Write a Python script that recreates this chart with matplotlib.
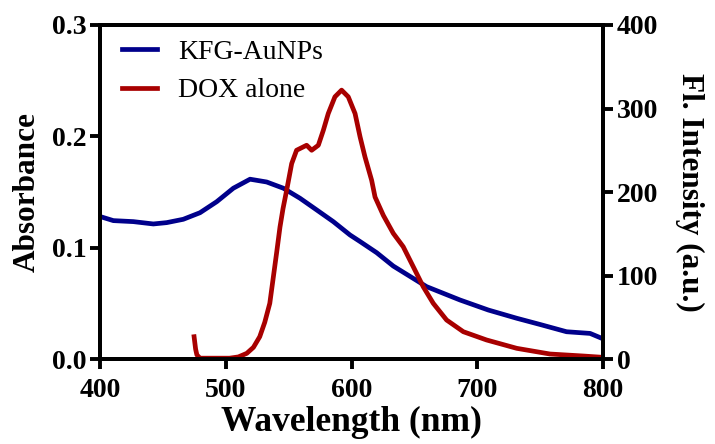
import matplotlib.pyplot as plt
import numpy as np

plt.rcParams['font.family'] = 'Liberation Serif'

# absorbance of KFG-AuNPs (left axis)
wl_abs = [400, 410.6, 426.5, 442.4, 453, 466.2, 479.5, 492.8, 506, 519.3, 532.5,
          545.8, 559, 572.3, 585.5, 598.8, 606.8, 620, 633.2, 659.7, 686.3,
          708.8, 731.4, 750, 771, 789.7, 799]
absorb = [0.128, 0.1243, 0.1234, 0.1213, 0.1225, 0.1255, 0.1314, 0.1413, 0.1534, 0.1615, 0.159,
          0.1534, 0.1444, 0.1339, 0.1234, 0.1114, 0.1055, 0.0955, 0.0835, 0.065, 0.053,
          0.044, 0.0366, 0.031, 0.0245, 0.023, 0.0186]

# fluorescence of DOX alone (right axis)
wl_fl = [474.8, 476, 477, 479.5, 503, 510, 516.7, 522, 527, 531, 535, 537.5, 540.5,
         543.1, 545.5, 548.4, 552.4, 556.3, 561.6, 564.3, 568.3, 573.6, 577.6, 581.5,
         586.8, 592.1, 597.4, 602.8, 606.8, 610.7, 616, 618.7, 625.3, 633.2, 641.1,
         649.1, 657, 665, 675.6, 688.9, 707.4, 731.4, 757.8, 784.3, 800]
fl = [26.7, 12, 5, 1, 1, 2.5, 6.8, 14, 26.7, 44, 66.7, 94.6, 128,
      158, 180, 202, 234, 250, 254, 256, 250, 256, 274, 294,
      314, 322, 314, 294, 266, 242, 214, 194, 172, 150.5, 134.5,
      110.5, 86.6, 66.7, 46.7, 32.7, 22.8, 12.8, 6, 3.6, 2]

blue = '#00008B'
red = '#A80000'

fig = plt.figure(figsize=(7.15, 4.44), dpi=100)
ax = fig.add_axes([0.1399, 0.1914, 0.7035, 0.7523])
ax2 = ax.twinx()

l1, = ax.plot(wl_abs, absorb, color=blue, lw=3.4, solid_joinstyle='round')
l2, = ax2.plot(wl_fl, fl, color=red, lw=3.4, solid_joinstyle='round')

ax.set_xlim(400, 800)
ax.set_ylim(0, 0.3)
ax2.set_ylim(0, 400)
ax.set_xticks([400, 500, 600, 700, 800])
ax.set_yticks([0.0, 0.1, 0.2, 0.3])
ax.set_yticklabels(['0.0', '0.1', '0.2', '0.3'])
ax2.set_yticks([0, 100, 200, 300, 400])

for a in (ax, ax2):
    for s in a.spines.values():
        s.set_linewidth(2.8)
    a.tick_params(width=2.8, length=7, labelsize=20, pad=3)
    for t in a.get_xticklabels() + a.get_yticklabels():
        t.set_fontweight('bold')
ax.tick_params(axis='x', pad=7)

ax.set_xlabel('Wavelength (nm)', fontsize=25.5, fontweight='bold', labelpad=2)
ax.set_ylabel('Absorbance', fontsize=22.5, fontweight='bold', labelpad=7)
ax2.set_ylabel('Fl. Intensity (a.u.)', fontsize=22.5, fontweight='bold',
               rotation=270, labelpad=33)

ax.legend([l1, l2], ['KFG-AuNPs', 'DOX alone'], loc='upper left', frameon=False,
          fontsize=20, handlelength=1.26, handletextpad=0.75, labelspacing=0.47,
          borderaxespad=0, borderpad=0, bbox_to_anchor=(0.044, 0.957))

fig.savefig('out.png', dpi=100)
